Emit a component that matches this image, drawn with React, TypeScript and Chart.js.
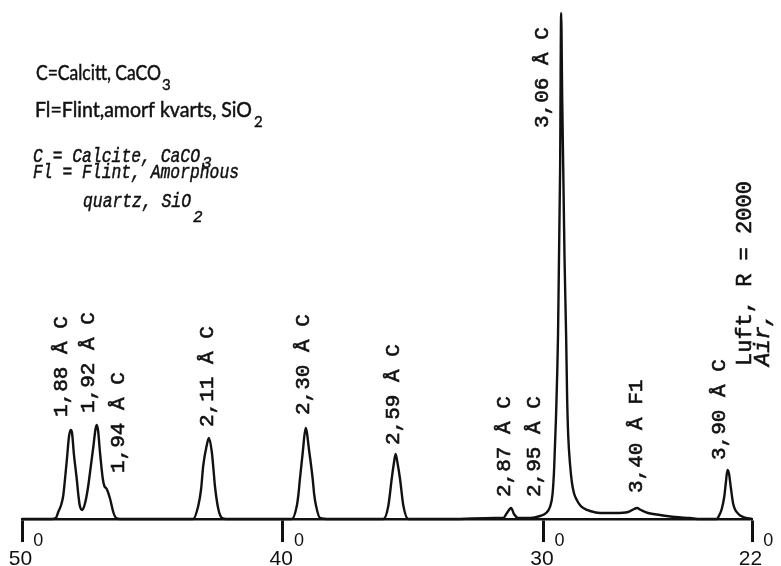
import React, { useEffect, useRef } from "react";
import { Chart, registerables } from "chart.js";

Chart.register(...registerables);

// ---- Data (2θ in degrees, relative intensity) ----
const twoTheta = [
  50.0, 49.31, 48.85, 48.7, 48.61, 48.5, 48.42, 48.35, 48.27, 48.2, 48.13, 48.08, 48.01, 47.9, 47.83, 47.78,
  47.69, 47.6, 47.53, 47.46, 47.35, 47.26, 47.18, 47.13, 47.08, 47.01, 46.9, 46.84, 46.75, 46.62, 46.5, 46.39,
  46.24, 44.71,
  43.44, 43.24, 43.13, 43.05, 42.92, 42.83, 42.72, 42.65, 42.6, 42.47, 42.33, 42.17, 40.87,
  39.65, 39.46, 39.4, 39.34, 39.23, 39.12, 38.98, 38.85, 38.79, 38.72, 38.57, 38.19, 36.65,
  36.14, 35.95, 35.82, 35.74, 35.67, 35.59, 35.5, 35.37, 35.18, 33.58, 31.86,
  31.54, 31.4, 31.24, 31.13, 30.96, 30.51, 30.13, 29.9, 29.75, 29.65,
  29.59, 29.52, 29.44, 29.36, 29.32, 29.28, 29.24, 29.19, 29.13, 29.09,
  29.05, 28.98, 28.91, 28.83, 28.72, 28.6, 28.47, 28.21, 27.83, 27.25,
  26.75, 26.52, 26.41, 26.26, 25.99, 25.53, 24.95, 24.38, 23.99,
  23.35, 23.29, 23.16, 23.06, 23.0, 22.94, 22.88, 22.82, 22.72, 22.52, 22.33, 22.0,
];
const intensity = [
  0, 0, 0, 1, 7, 14, 23, 40, 62, 82, 89, 86, 65, 40, 22, 13,
  9, 14, 22, 33, 55, 73, 90, 94, 88, 67, 40, 33, 30, 20, 7, 1,
  0, 0,
  0, 13, 30, 53, 73, 81, 67, 48, 33, 10, 1, 0, 0,
  0, 13, 24, 40, 67, 91, 67, 40, 24, 13, 1, 0, 0,
  0, 13, 40, 55, 65, 55, 40, 13, 0, 0, 1,
  1, 6, 11, 5, 1, 1, 3, 6, 12, 25,
  50, 100, 184, 350, 506, 420, 350, 260, 184, 120,
  84, 55, 37, 26, 19, 14, 11, 8, 6, 6,
  7, 10, 11, 9, 6, 4, 2, 1, 0,
  0, 2, 10, 23, 37, 49, 45, 33, 15, 5, 2, 0,
];
const yMax = 509;

const xTickValues = [50, 40, 30, 22];

// Peak annotations: text, 2θ of the label column, intensity level where the label starts
const peakLabelText = [
  "1,88 Å C", "1,92 Å C", "1,94 Å C", "2,11 Å C", "2,30 Å C", "2,59 Å C",
  "2,87 Å C", "2,95 Å C", "3,06 Å C", "3,40 Å F1", "3,90 Å C",
];
const peakLabelTwoTheta = [48.5, 47.47, 46.32, 42.9, 39.22, 35.77, 31.51, 30.36, 30.02, 26.45, 23.26];
const peakLabelLevel = [102, 106, 46, 92, 104, 74, 22, 22, 391, 26, 59];

const conditionText = "Luft, R = 2000";
const conditionTextEn = "Air,";
const conditionTwoTheta = [22.27, 21.58];
const conditionLevel = [153, 153];

// Key (Swedish, then English) – [main text, subscript]
const keySwedish = [
  ["C=Calcitt, CaCO", "3"],
  ["Fl=Flint,amorf kvarts, SiO", "2"],
];
const keyEnglish = [
  ["C = Calcite, CaCO", "3"],
  ["Fl = Flint, Amorphous", ""],
  ["quartz, SiO", "2"],
];

const INK = "#111111";

function fitText(ctx: CanvasRenderingContext2D, text: string, x: number, y: number, width?: number, stroke = 0) {
  const w = ctx.measureText(text).width;
  ctx.save();
  ctx.translate(x, y);
  if (width) ctx.scale(width / w, 1);
  ctx.fillText(text, 0, 0);
  if (stroke > 0) {
    ctx.lineWidth = stroke;
    ctx.strokeText(text, 0, 0);
  }
  ctx.restore();
}

const annotationPlugin = {
  id: "xrdAnnotations",
  afterDraw(chart: any) {
    const ctx: CanvasRenderingContext2D = chart.ctx;
    const xs = chart.scales.x;
    const ys = chart.scales.y;
    ctx.save();
    ctx.fillStyle = INK;
    ctx.strokeStyle = INK;

    // rotated peak labels
    ctx.font = "21px 'Liberation Mono'";
    ctx.textAlign = "left";
    ctx.textBaseline = "middle";
    peakLabelText.forEach((t, i) => {
      const px = xs.getPixelForValue(peakLabelTwoTheta[i]);
      const py = ys.getPixelForValue(peakLabelLevel[i]);
      ctx.save();
      ctx.translate(px, py);
      ctx.rotate(-Math.PI / 2);
      ctx.fillText(t, 0, 0);
      ctx.lineWidth = 0.6;
      ctx.strokeText(t, 0, 0);
      ctx.restore();
    });

    // conditions
    [conditionText, conditionTextEn].forEach((t, i) => {
      const px = xs.getPixelForValue(conditionTwoTheta[i]);
      const py = ys.getPixelForValue(conditionLevel[i]);
      ctx.save();
      ctx.font = i === 0 ? "22px 'Liberation Mono'" : "italic 22px 'Liberation Mono'";
      ctx.translate(px, py);
      ctx.rotate(-Math.PI / 2);
      ctx.fillText(t, 0, 0);
      ctx.lineWidth = 0.6;
      ctx.strokeText(t, 0, 0);
      ctx.restore();
    });

    // x tick labels with degree-style superscript 0
    ctx.textBaseline = "alphabetic";
    xTickValues.forEach((v) => {
      const px = xs.getPixelForValue(v);
      ctx.font = "21px 'Liberation Sans'";
      const s = String(v);
      const w = ctx.measureText(s).width;
      ctx.textAlign = "center";
      ctx.fillText(s, px - 1.5, 565);
      ctx.font = "18px 'Liberation Sans'";
      ctx.textAlign = "left";
      ctx.fillText("0", px - 1.5 + w / 2 + 1, 546);
    });

    // key, Swedish
    ctx.textAlign = "left";
    ctx.font = "21px Lato";
    fitText(ctx, keySwedish[0][0], 36, 80, 125, 0.5);
    ctx.font = "15px Lato";
    fitText(ctx, keySwedish[0][1], 162, 90, undefined, 0.4);
    ctx.font = "21px Lato";
    fitText(ctx, keySwedish[1][0], 35, 117, 217, 0.5);
    ctx.font = "15px Lato";
    fitText(ctx, keySwedish[1][1], 254, 127, undefined, 0.4);

    // key, English (italic)
    ctx.font = "italic 21px 'Liberation Mono'";
    fitText(ctx, keyEnglish[0][0], 33, 162, 167, 0.5);
    fitText(ctx, keyEnglish[1][0], 33, 178, 206, 0.5);
    fitText(ctx, keyEnglish[2][0], 83, 207, 108, 0.5);
    ctx.font = "italic 16px 'Liberation Mono'";
    fitText(ctx, keyEnglish[0][1], 202, 168, undefined, 0.4);
    fitText(ctx, keyEnglish[2][1], 193, 222, undefined, 0.4);

    ctx.restore();
  },
};

export default function App() {
  const canvasRef = useRef<HTMLCanvasElement | null>(null);

  useEffect(() => {
    if (!canvasRef.current) return;
    const chart = new Chart(canvasRef.current, {
      type: "scatter",
      data: {
        datasets: [
          {
            data: twoTheta.map((t, i) => ({ x: t, y: intensity[i] })),
            showLine: true,
            borderColor: INK,
            borderWidth: 2.4,
            pointRadius: 0,
            fill: false,
            cubicInterpolationMode: "monotone",
            clip: false as any,
          } as any,
        ],
      },
      options: {
        animation: false,
        responsive: false,
        maintainAspectRatio: false,
        layout: { padding: { left: 22, right: 29, top: 10, bottom: 24 } },
        plugins: {
          legend: { display: false },
          tooltip: { enabled: false },
          title: { display: false },
        },
        scales: {
          x: {
            type: "linear",
            min: 22,
            max: 50,
            reverse: true,
            afterBuildTicks: (scale: any) => {
              scale.ticks = xTickValues.map((v) => ({ value: v }));
            },
            afterFit: (scale: any) => {
              scale.height = 23;
            },
            grid: {
              display: true,
              drawOnChartArea: false,
              drawTicks: true,
              tickLength: 23,
              tickWidth: 3,
              tickColor: INK,
              color: INK,
            },
            border: { display: true, color: INK, width: 2.5 },
            ticks: { display: false },
          },
          y: { display: false, min: 0, max: yMax },
        },
      } as any,
      plugins: [annotationPlugin],
    });
    return () => chart.destroy();
  }, []);

  return (
    <div style={{ position: "fixed", left: 0, top: 0, width: 781, height: 566, background: "#fff" }}>
      <canvas ref={canvasRef} width={781} height={566} style={{ display: "block", width: 781, height: 566 }} />
    </div>
  );
}
